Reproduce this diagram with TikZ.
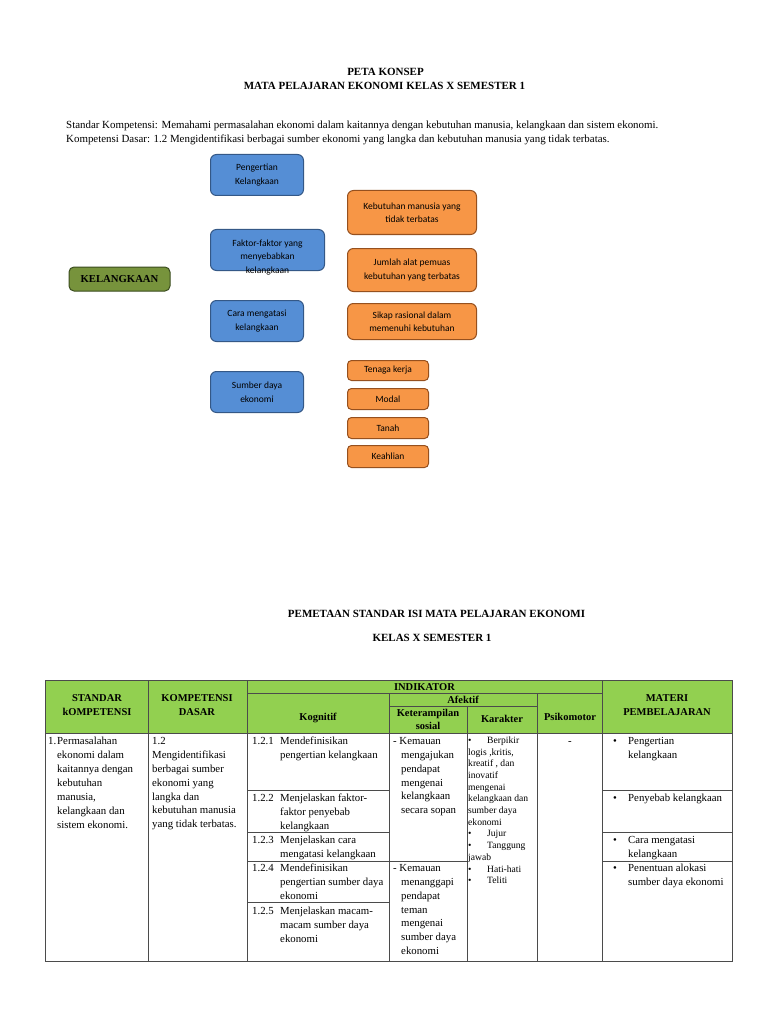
\documentclass[tikz,border=0pt]{standalone}
\usepackage{fontspec}
\setmainfont{Liberation Serif}
\newfontfamily\boxfont{Carlito}
\usetikzlibrary{positioning}

\definecolor{blueFill}{RGB}{85,142,213}
\definecolor{blueLine}{RGB}{52,88,135}
\definecolor{orangeFill}{RGB}{247,150,70}
\definecolor{orangeLine}{RGB}{150,80,30}
\definecolor{greenFill}{RGB}{119,147,60}
\definecolor{greenLine}{RGB}{58,76,30}
\definecolor{hdrGreen}{RGB}{146,208,80}
\definecolor{gridLine}{RGB}{75,75,75}

\newcommand\tbfont{\fontsize{10.8}{13.9}\selectfont}
\newcommand\krfont{\fontsize{9.6}{11.7}\selectfont}
\newcommand\hdfont{\bfseries\fontsize{10.5}{13.5}\selectfont}

\begin{document}
\begin{tikzpicture}[x=1pt, y=-1pt,
        mapbox/.style={draw, rounded corners=6pt, line width=1pt, align=center, inner sep=2pt,
            font=\boxfont\fontsize{9.5}{13.5}\selectfont},
        bluebox/.style={mapbox, fill=blueFill, draw=blueLine, minimum width=93pt, minimum height=41pt},
        orangebox/.style={mapbox, fill=orangeFill, draw=orangeLine, minimum width=129pt, minimum height=44pt},
        smallbox/.style={mapbox, fill=orangeFill, draw=orangeLine, rounded corners=4pt, minimum width=81pt, minimum height=20pt},
        keybox/.style={draw=greenLine, fill=greenFill, rounded corners=5pt, line width=1pt, minimum width=101pt, minimum height=24pt,
            font=\bfseries\fontsize{10.7}{13}\selectfont},
        title/.style={font=\bfseries\fontsize{11}{13}\selectfont, inner sep=0pt},
        txt/.style={font=\tbfont, align=left, anchor=base west, inner sep=0pt},
        txtblk/.style={font=\tbfont, align=left, anchor=north west, inner sep=0pt, yshift=7.4pt},
        hd/.style={font=\hdfont, align=center, inner sep=0pt},
        grid/.style={draw=gridLine, line width=1pt}
    ]
    \fill[white] (0,0) rectangle (768,1024);
    \useasboundingbox (0,0) rectangle (768,1024);

    % Headings
    \node[title] (peta) at (385.5,72) {PETA KONSEP};
    \node[title] (mapel) at (384.5,86) {MATA PELAJARAN EKONOMI KELAS X SEMESTER 1};
    \node[txt, font=\fontsize{10.9}{14}\selectfont] (sk) at (66,128.5) {Standar Kompetensi: Memahami permasalahan ekonomi dalam kaitannya dengan kebutuhan manusia, kelangkaan dan sistem ekonomi.};
    \node[txt, font=\fontsize{10.9}{14}\selectfont] (kd) at (66,142.5) {Kompetensi Dasar: 1.2 Mengidentifikasi berbagai sumber ekonomi yang langka dan kebutuhan manusia yang tidak terbatas.};

    % Concept map
    \node[keybox] (kel) at (119.5,279) {KELANGKAAN};

    \node[bluebox, anchor=north west] (pk) at (210,154) {Pengertian\\Kelangkaan};
    \node[bluebox, minimum width=114pt, below right=33pt and 0pt of pk.south west,
        label={[mapbox, draw=none, fill=none, yshift=-7.5pt]center:Faktor-faktor yang\\menyebabkan\\kelangkaan}] (fk) {};
    \node[bluebox, below right=29pt and 0pt of fk.south west] (cm) {Cara mengatasi\\kelangkaan};
    \node[bluebox, below right=29pt and 0pt of cm.south west] (sd) {Sumber daya\\ekonomi};

    \node[orangebox, anchor=north west] (kb) at (347,190) {Kebutuhan manusia yang\\tidak terbatas};
    \node[orangebox, minimum height=43pt, below=13pt of kb] (ja) {Jumlah alat pemuas\\kebutuhan yang terbatas};
    \node[orangebox, minimum height=36pt, below=11pt of ja] (sr) {Sikap rasional dalam\\memenuhi kebutuhan};
    \node[smallbox, below right=20pt and 0pt of sr.south west] (tk) {Tenaga kerja};
    \node[smallbox, minimum height=21pt, below=7pt of tk] (md) {Modal};
    \node[smallbox, minimum height=21pt, below=7pt of md] (tn) {Tanah};
    \node[smallbox, minimum height=22pt, below=6pt of tn] (kh) {Keahlian};

    % Table headings
    \node[title] (pemetaan) at (436.5,614) {PEMETAAN STANDAR ISI MATA PELAJARAN EKONOMI};
    \node[title] (kelas) at (432,638) {KELAS X SEMESTER 1};

    % Table frame
    \fill[hdrGreen] (45,680) rectangle (732,733);
    \draw[grid] (45,680) rectangle (732,961);
    \draw[grid] (148,680) -- (148,961) (247,680) -- (247,961) (602,680) -- (602,961);
    \draw[grid] (389,693) -- (389,961) (537,693) -- (537,961) (467,706) -- (467,961);
    \draw[grid] (247,693) -- (602,693) (389,706) -- (537,706) (45,733) -- (732,733);
    \foreach \y in {790.5,832,861,902} \draw[grid] (247,\y) -- (389,\y);
    \draw[grid] (389,861) -- (467,861);
    \foreach \y in {790.5,832,861} \draw[grid] (602,\y) -- (732,\y);

    % Header cells
    \node[hd] (hsk) at (97,705) {STANDAR\\kOMPETENSI};
    \node[hd] (hkd) at (197,705) {KOMPETENSI\\DASAR};
    \node[hd] (hind) at (424.5,687) {INDIKATOR};
    \node[hd] (haf) at (463,699.5) {Afektif};
    \node[hd] (hkog) at (318,717.5) {Kognitif};
    \node[hd, font=\bfseries\fontsize{10.5}{12.8}\selectfont] (hket) at (428,719.5) {Keterampilan\\sosial};
    \node[hd] (hkar) at (502,719) {Karakter};
    \node[hd] (hpsi) at (570,716.5) {Psikomotor};
    \node[hd] (hmat) at (667,705) {MATERI\\PEMBELAJARAN};

    % Body cells
    \node[txt] (no1) at (48,744.5) {1.};
    \node[txtblk] (sk1) at (57,744.5) {Permasalahan\\ekonomi dalam\\kaitannya dengan\\kebutuhan\\manusia,\\kelangkaan dan\\sistem ekonomi.};
    \node[txtblk] (kd1) at (152,744.5) {1.2\\Mengidentifikasi\\berbagai sumber\\ekonomi yang\\langka dan\\kebutuhan manusia\\yang tidak terbatas.};

    \node[txt] (n121) at (252,744.5) {1.2.1};
    \node[txtblk] (k121) at (280,744.5) {Mendefinisikan\\pengertian kelangkaan};
    \node[txt] (n122) at (252,801.5) {1.2.2};
    \node[txtblk] (k122) at (280,801.5) {Menjelaskan faktor-\\faktor penyebab\\kelangkaan};
    \node[txt] (n123) at (252,843.5) {1.2.3};
    \node[txtblk] (k123) at (280,843.5) {Menjelaskan cara\\mengatasi kelangkaan};
    \node[txt] (n124) at (252,871.5) {1.2.4};
    \node[txtblk] (k124) at (280,871.5) {Mendefinisikan\\pengertian sumber daya\\ekonomi};
    \node[txt] (n125) at (252,914.5) {1.2.5};
    \node[txtblk] (k125) at (280,914.5) {Menjelaskan macam-\\macam sumber daya\\ekonomi};

    \node[txtblk] (ks1) at (393,744.5) {- Kemauan\\\hspace*{8pt}mengajukan\\\hspace*{8pt}pendapat\\\hspace*{8pt}mengenai\\\hspace*{8pt}kelangkaan\\\hspace*{8pt}secara sopan};
    \node[txtblk] (ks2) at (393,871.5) {- Kemauan\\\hspace*{8pt}menanggapi\\\hspace*{8pt}pendapat\\\hspace*{8pt}teman\\\hspace*{8pt}mengenai\\\hspace*{8pt}sumber daya\\\hspace*{8pt}ekonomi};

    \node[txtblk, font=\krfont, yshift=-0.85pt] (kar) at (468,743) {\makebox[19pt][l]{\textbullet}Berpikir\\logis ,kritis,\\kreatif , dan\\inovatif\\mengenai\\kelangkaan dan\\sumber daya\\ekonomi\\\makebox[19pt][l]{\textbullet}Jujur\\\makebox[19pt][l]{\textbullet}Tanggung\\jawab\\\makebox[19pt][l]{\textbullet}Hati-hati\\\makebox[19pt][l]{\textbullet}Teliti};

    \node[txt] (psi) at (568,744.5) {-};

    \node[txtblk] (m1) at (613,744.5) {\makebox[15pt][l]{\textbullet}Pengertian\\\hspace*{15pt}kelangkaan};
    \node[txt] (m2) at (613,801.5) {\makebox[15pt][l]{\textbullet}Penyebab kelangkaan};
    \node[txtblk] (m3) at (613,843.5) {\makebox[15pt][l]{\textbullet}Cara mengatasi\\\hspace*{15pt}kelangkaan};
    \node[txtblk] (m4) at (613,871.5) {\makebox[15pt][l]{\textbullet}Penentuan alokasi\\\hspace*{15pt}sumber daya ekonomi};
\end{tikzpicture}
\end{document}
